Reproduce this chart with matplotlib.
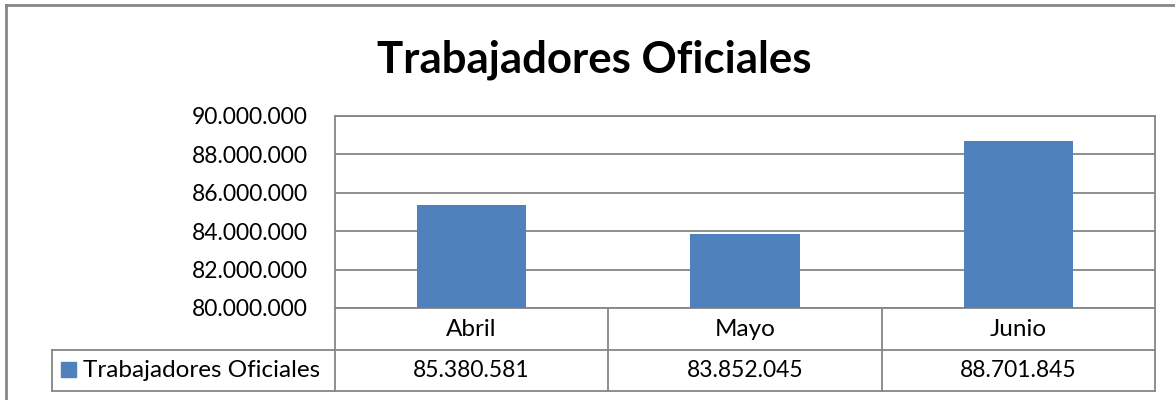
import matplotlib.pyplot as plt
from matplotlib.lines import Line2D
from matplotlib.patches import Rectangle

# data
months = ['Abril', 'Mayo', 'Junio']
values = [85380581, 83852045, 88701845]
series_name = 'Trabajadores Oficiales'
title = 'Trabajadores Oficiales'

W, H = 1175, 400
BAR = '#4F81BD'
GRID = '#868686'
plt.rcParams['font.family'] = ['Lato', 'DejaVu Sans']


def fmt(v):
    return f'{int(v):,}'.replace(',', '.')


fig = plt.figure(figsize=(W / 100, H / 100), dpi=100)

# plot area (pixel box)
px0, px1, py_top, py_bot = 335, 1155, 116, 308
ax = fig.add_axes([px0 / W, 1 - py_bot / H, (px1 - px0) / W, (py_bot - py_top) / H])
x = range(len(months))
ax.bar(x, values, width=0.4, color=BAR, zorder=3)
ax.set_xlim(-0.5, len(months) - 0.5)
ax.set_ylim(80000000, 90000000)
ticks = list(range(80000000, 90000001, 2000000))
ax.set_yticks(ticks)
ax.set_yticklabels([fmt(t) for t in ticks], fontsize=16.5)
ax.tick_params(axis='y', length=0, pad=19.5)
ax.set_xticks([])
ax.grid(axis='y', color=GRID, linewidth=1.3, zorder=0)
for s in ax.spines.values():
    s.set_color(GRID)
    s.set_linewidth(1.3)

# data table below the plot area, in pixel coordinates
tax = fig.add_axes([0, 0, 1, 1], facecolor='none')
tax.set_xlim(0, W)
tax.set_ylim(H, 0)
tax.axis('off')

col_w = (px1 - px0) / len(months)
hdr_bot, row_bot, leg_x = 350, 391, 52

def line(xs, ys, lw=1.3, color=GRID):
    tax.add_line(Line2D(xs, ys, color=color, linewidth=lw))

line([px0, px0], [py_bot, row_bot])
line([px1, px1], [py_bot, row_bot])
for i in range(1, len(months)):
    line([px0 + i * col_w] * 2, [py_bot, row_bot])
line([leg_x, px1], [hdr_bot, hdr_bot])
line([leg_x, px1], [row_bot, row_bot])
line([leg_x, leg_x], [hdr_bot, row_bot])

for i, (m, v) in enumerate(zip(months, values)):
    cx = px0 + (i + 0.5) * col_w
    tax.text(cx, (py_bot + hdr_bot) / 2 + 1, m, ha='center', va='center', fontsize=17.5)
    tax.text(cx, (hdr_bot + row_bot) / 2, fmt(v), ha='center', va='center', fontsize=16.5)

tax.add_patch(Rectangle((61, 362), 15, 15, color=BAR))
tax.text(83, (hdr_bot + row_bot) / 2, series_name, ha='left', va='center', fontsize=17.5)

# chart title
tax.text(594.5, 72, title, ha='center', va='baseline', fontsize=31.5, fontweight='bold')

# outer chart border
line([6, 6], [5, H], lw=2)
line([6, W], [5, 5], lw=2)

fig.savefig('out.png', dpi=100)
